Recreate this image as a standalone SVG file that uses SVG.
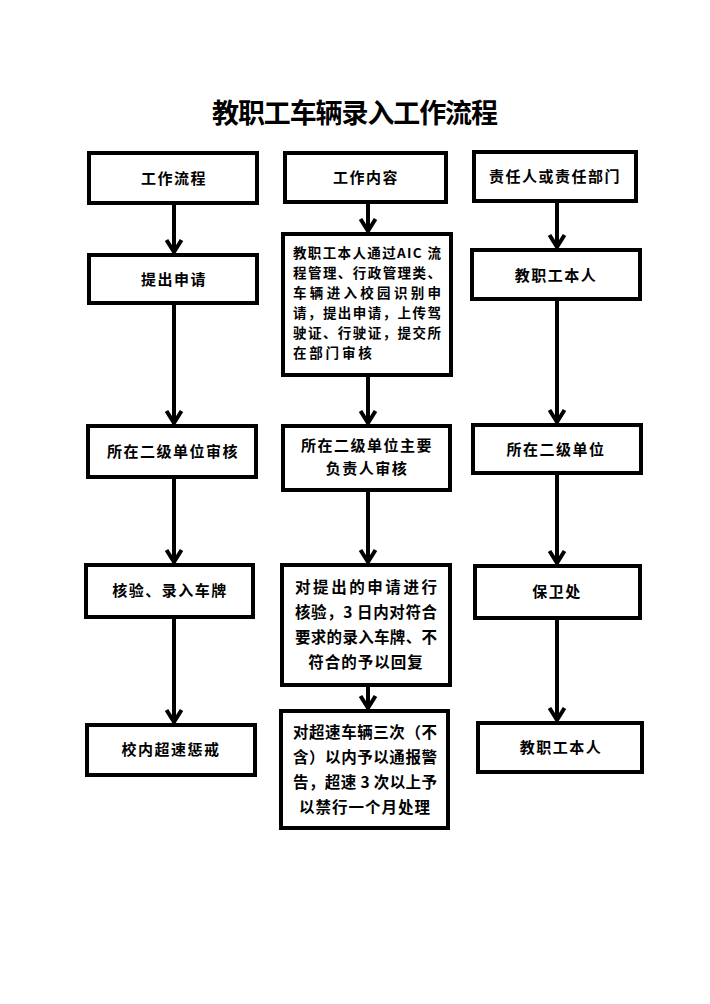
<svg xmlns="http://www.w3.org/2000/svg" width="710" height="1004" viewBox="0 0 710 1004">
<style>
.box{fill:#fff;stroke:#000;stroke-width:4}
.t{font-family:"Noto Sans CJK SC","Liberation Sans",sans-serif;font-weight:bold;font-size:15px;fill:#000;text-anchor:middle;letter-spacing:1.5px}
.s{font-family:"Noto Sans CJK SC","Liberation Sans",sans-serif;font-weight:bold;font-size:13.5px;fill:#000}
.m{font-family:"Noto Sans CJK SC","Liberation Sans",sans-serif;font-weight:bold;font-size:15.5px;fill:#000}
.title{font-family:"Noto Sans CJK SC","Liberation Serif",serif;font-weight:bold;font-size:27px;fill:#000;text-anchor:middle}
.c{stroke:#000;stroke-width:4;fill:none}
</style>
<defs>
<marker id="arr" markerUnits="userSpaceOnUse" viewBox="-16 -10 20 20" refX="0" refY="0" markerWidth="20" markerHeight="20" orient="auto">
<path d="M-12,-7.5 L0,0 L-12,7.5" fill="none" stroke="#000" stroke-width="4"/>
</marker>
</defs>
<rect width="710" height="1004" fill="#fff"/>
<text class="title" x="355" y="123" textLength="286" lengthAdjust="spacing">教职工车辆录入工作流程</text>

<g id="connectors">
<line class="c" x1="174" y1="203" x2="174" y2="252" marker-end="url(#arr)"/>
<line class="c" x1="174" y1="303" x2="174" y2="423" marker-end="url(#arr)"/>
<line class="c" x1="174" y1="477" x2="174" y2="562" marker-end="url(#arr)"/>
<line class="c" x1="174" y1="617" x2="174" y2="722" marker-end="url(#arr)"/>
<line class="c" x1="368" y1="202" x2="368" y2="231" marker-end="url(#arr)"/>
<line class="c" x1="368" y1="375" x2="368" y2="423" marker-end="url(#arr)"/>
<line class="c" x1="368" y1="490" x2="368" y2="562" marker-end="url(#arr)"/>
<line class="c" x1="368" y1="685" x2="368" y2="708" marker-end="url(#arr)"/>
<line class="c" x1="557" y1="201" x2="557" y2="247" marker-end="url(#arr)"/>
<line class="c" x1="557" y1="299" x2="557" y2="422" marker-end="url(#arr)"/>
<line class="c" x1="557" y1="473" x2="557" y2="563" marker-end="url(#arr)"/>
<line class="c" x1="557" y1="618" x2="557" y2="720" marker-end="url(#arr)"/>
</g>

<g id="a1"><rect class="box" x="89" y="153" width="168" height="50"/><text class="t" x="174" y="184">工作流程</text></g>
<g id="a2"><rect class="box" x="89" y="255" width="168" height="48"/><text class="t" x="174" y="285">提出申请</text></g>
<g id="a3"><rect class="box" x="88" y="426" width="168" height="51"/><text class="t" x="173" y="457">所在二级单位审核</text></g>
<g id="a4"><rect class="box" x="86" y="565" width="167" height="52"/><text class="t" x="170" y="596">核验、录入车牌</text></g>
<g id="a5"><rect class="box" x="87" y="725" width="168" height="50"/><text class="t" x="171" y="755">校内超速惩戒</text></g>

<g id="b1"><rect class="box" x="285" y="153" width="161" height="49"/><text class="t" x="366" y="183">工作内容</text></g>
<g id="b2"><rect class="box" x="283" y="234" width="168" height="141"/>
<text class="s" x="293" y="258" textLength="148" lengthAdjust="spacing">教职工本人通过AIC 流</text>
<text class="s" x="293" y="278" textLength="148" lengthAdjust="spacing">程管理、行政管理类、</text>
<text class="s" x="293" y="298" textLength="148" lengthAdjust="spacing">车辆进入校园识别申</text>
<text class="s" x="293" y="318" textLength="148" lengthAdjust="spacing">请，提出申请，上传驾</text>
<text class="s" x="293" y="338" textLength="148" lengthAdjust="spacing">驶证、行驶证，提交所</text>
<text class="s" x="293" y="358" style="letter-spacing:2.8px">在部门审核</text>
</g>
<g id="b3"><rect class="box" x="283" y="426" width="167" height="64"/>
<text class="t" x="367" y="451">所在二级单位主要</text>
<text class="t" x="367" y="474">负责人审核</text></g>
<g id="b4"><rect class="box" x="282" y="565" width="168" height="120"/>
<text class="m" x="295" y="593" textLength="142" lengthAdjust="spacing">对提出的申请进行</text>
<text class="m" x="295" y="618" textLength="142" lengthAdjust="spacing">核验，3 日内对符合</text>
<text class="m" x="295" y="643" textLength="142" lengthAdjust="spacing">要求的录入车牌、不</text>
<text class="m" x="366" y="668" style="text-anchor:middle;letter-spacing:1px">符合的予以回复</text>
</g>
<g id="b5"><rect class="box" x="281" y="711" width="167" height="117"/>
<text class="m" x="293" y="738" textLength="144" lengthAdjust="spacing">对超速车辆三次（不</text>
<text class="m" x="293" y="763" textLength="144" lengthAdjust="spacing">含）以内予以通报警</text>
<text class="m" x="293" y="788" textLength="144" lengthAdjust="spacing">告，超速 3 次以上予</text>
<text class="m" x="365" y="813" style="text-anchor:middle;letter-spacing:1px">以禁行一个月处理</text>
</g>

<g id="c1"><rect class="box" x="474" y="152" width="162" height="49"/><text class="t" x="555" y="182">责任人或责任部门</text></g>
<g id="c2"><rect class="box" x="472" y="250" width="168" height="49"/><text class="t" x="556" y="281">教职工本人</text></g>
<g id="c3"><rect class="box" x="473" y="425" width="168" height="48"/><text class="t" x="556" y="455">所在二级单位</text></g>
<g id="c4"><rect class="box" x="475" y="566" width="165" height="52"/><text class="t" x="557" y="597">保卫处</text></g>
<g id="c5"><rect class="box" x="478" y="723" width="164" height="49"/><text class="t" x="561" y="753">教职工本人</text></g>
</svg>
